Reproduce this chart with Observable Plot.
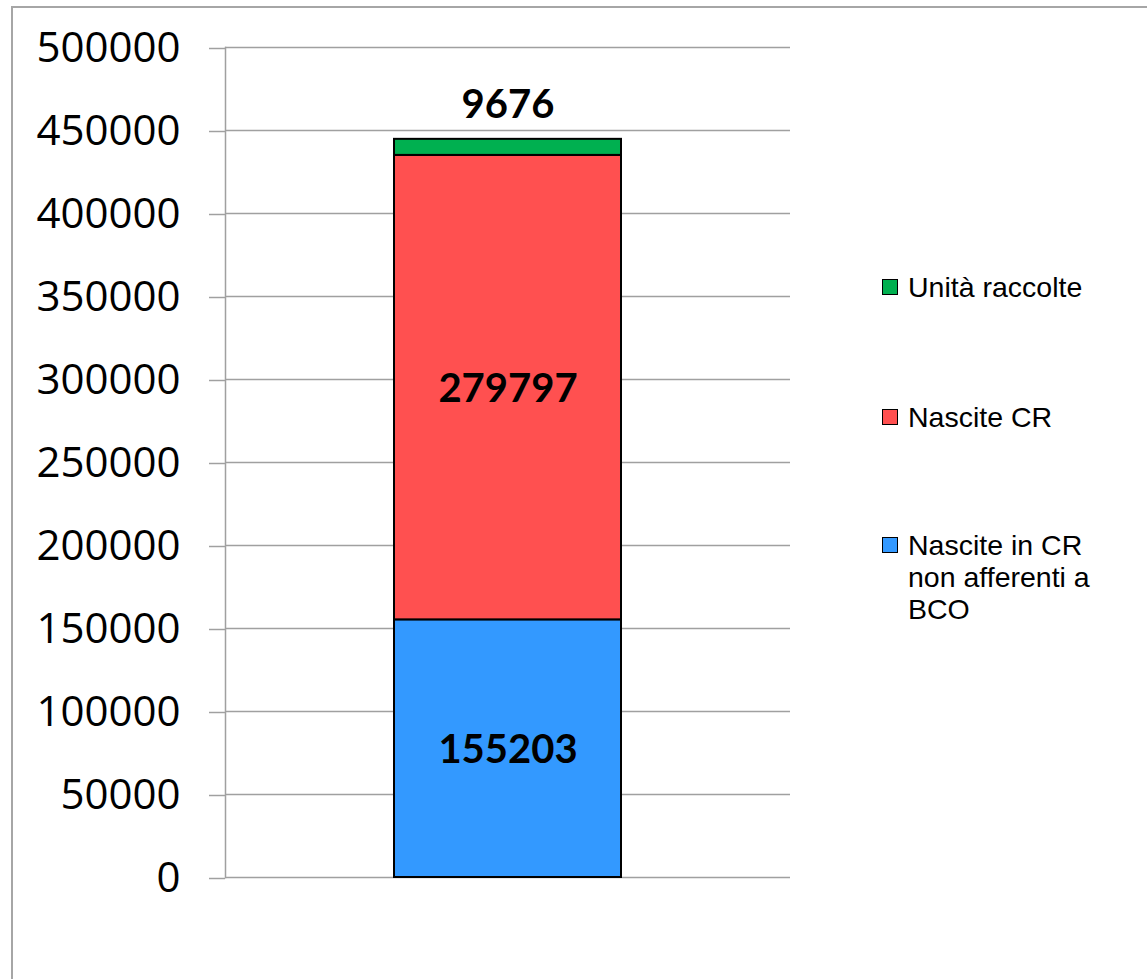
<!DOCTYPE html>
<html>
<head>
<meta charset="utf-8">
<script src="https://cdn.jsdelivr.net/npm/d3@7"></script>
<script src="https://cdn.jsdelivr.net/npm/@observablehq/plot@0.6"></script>
<style>
  html, body { margin: 0; padding: 0; background: #fff; }
  #wrap { position: relative; width: 1147px; height: 979px; overflow: hidden; }
  #border { position: absolute; left: 11px; top: 6px; width: 1140px; height: 1000px;
            border-left: 2px solid #a6a6a6; border-top: 2px solid #a6a6a6; box-sizing: border-box; }
  #chart { position: absolute; left: 0; top: 0; }
  #legend { position: absolute; left: 882px; top: 0; font-family: "Liberation Sans", Arial, sans-serif;
            font-size: 28.5px; color: #000; }
  .item { position: absolute; left: 0; display: flex; align-items: flex-start; white-space: nowrap; line-height: 32px; }
  .sw { width: 14px; height: 14px; border: 1.5px solid #000; margin-right: 10px; margin-top: 8px; flex: none; }
</style>
</head>
<body>
<div id="wrap">
  <div id="border"></div>
  <div id="chart"></div>
  <div id="legend"></div>
</div>
<script>
const category = ["Totale"];
const seriesNames = ["Nascite in CR non afferenti a BCO", "Nascite CR", "Unità raccolte"];
const legendLines = [["Nascite in CR", "non afferenti a", "BCO"], ["Nascite CR"], ["Unità raccolte"]];
const seriesValues = [155203, 279797, 9676];
const seriesColors = ["#3399FF", "#FF5050", "#00B050"];
const yTicks = [0, 50000, 100000, 150000, 200000, 250000, 300000, 350000, 400000, 450000, 500000];

const data = seriesNames.map((s, i) => ({cat: category[0], serie: s, value: seriesValues[i]}));
let acc = 0;
data.forEach(d => { d.y1 = acc; acc += d.value; d.y2 = acc; d.mid = (d.y1 + d.y2) / 2; });
const insideData = data.slice(0, 2);
const topData = data.slice(2);

const chart = Plot.plot({
  width: 1147,
  height: 979,
  marginLeft: 225,
  marginRight: 357,
  marginTop: 47,
  marginBottom: 102,
  style: {background: "transparent", overflow: "visible"},
  x: {domain: category, padding: 0.4267, axis: null},
  y: {domain: [0, 500000], ticks: yTicks},
  color: {domain: seriesNames, range: seriesColors},
  marks: [
    Plot.ruleY(yTicks, {stroke: "#a0a0a0", strokeWidth: 1.5}),
    Plot.axisY({ticks: yTicks, tickFormat: d => String(d), tickSize: 16, tickPadding: 29, dy: 1,
      stroke: "#a0a0a0", strokeWidth: 1.5, fontSize: 42, fontFamily: "Open Sans", fill: "#000"}),
    Plot.frame({anchor: "left", stroke: "#a0a0a0", strokeWidth: 1.5}),
    Plot.barY(data, {x: "cat", y1: "y1", y2: "y2", fill: "serie", stroke: "#000", strokeWidth: 2}),
    Plot.text(insideData, {x: "cat", y: "mid", text: d => String(d.value), fontSize: 40, dy: 2,
      fontWeight: "bold", fontFamily: "Lato", fill: "#000"}),
    Plot.text(topData, {x: "cat", y: "y2", text: d => String(d.value), fontSize: 40, dy: -34,
      fontWeight: "bold", fontFamily: "Lato", fill: "#000"})
  ]
});
document.getElementById("chart").appendChild(chart);

const legendTops = [271, 401, 529];
const legendEl = document.getElementById("legend");
[2, 1, 0].forEach((i, k) => {
  const item = document.createElement("div");
  item.className = "item";
  item.style.top = legendTops[k] + "px";
  const sw = document.createElement("div");
  sw.className = "sw";
  sw.style.background = seriesColors[i];
  const txt = document.createElement("div");
  txt.innerHTML = legendLines[i].join("<br>");
  item.appendChild(sw);
  item.appendChild(txt);
  legendEl.appendChild(item);
});
</script>
</body>
</html>
